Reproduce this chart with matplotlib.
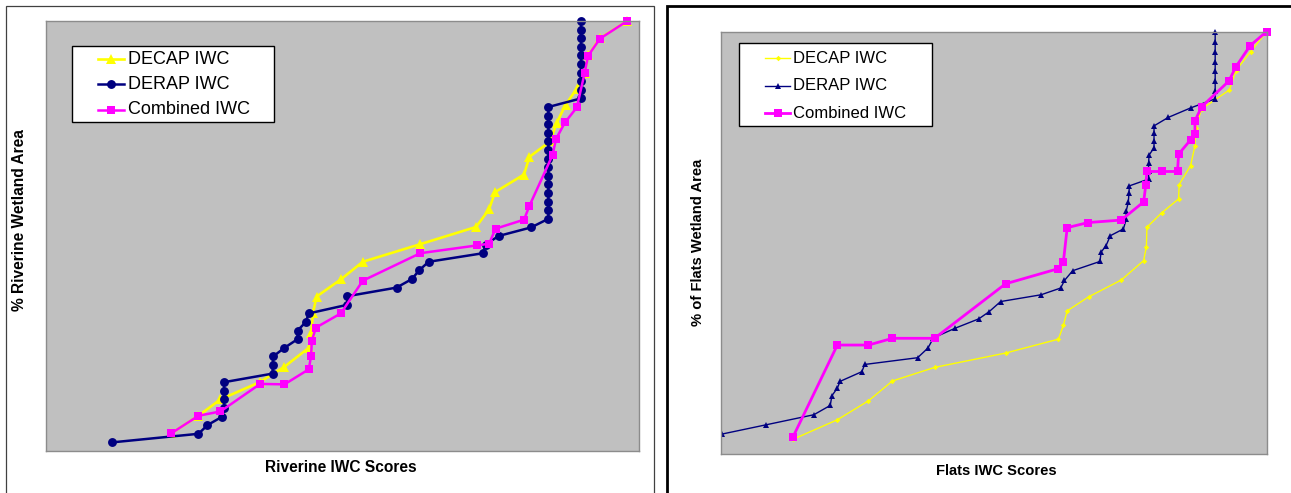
import matplotlib
matplotlib.use("Agg")
import matplotlib.pyplot as plt
from matplotlib.patches import Rectangle
from matplotlib.lines import Line2D
from matplotlib.transforms import Bbox, TransformedBbox

plt.rcParams['font.family'] = ['Liberation Sans', 'DejaVu Sans']

# ---- Riverine data (score, cumulative % of wetland area) ----
riv_decap_x = [21.2, 25.8, 29.5, 36.1, 40.3, 44.4, 44.8, 45.1, 45.7, 49.8, 53.5, 63.2, 72.6,
               74.8, 75.8, 80.7, 81.6, 85.1, 86.2, 87.7, 89.6, 90.9, 91.5, 93.5, 98.1]
riv_decap_y = [4.1, 8.2, 12.0, 16.0, 19.6, 24.0, 27.4, 32.0, 35.9, 39.9, 44.0, 48.1, 52.1,
               56.2, 60.2, 64.3, 68.4, 72.0, 76.3, 80.5, 84.3, 88.0, 92.0, 96.0, 100.0]

riv_derap_x = [11.2, 25.8, 27.3, 29.8, 30.1, 30.1, 30.1, 30.1, 38.3, 38.3,
               38.4, 40.3, 42.5, 42.5, 43.9, 44.4, 50.9, 50.9, 59.2, 61.8,
               63.0, 64.6, 73.8, 74.2, 76.4, 81.9, 84.8, 84.8, 84.8, 84.8,
               84.8, 84.8, 84.8, 84.8, 84.8, 84.8, 84.8, 84.8, 84.8, 84.8,
               90.3, 90.3, 90.3, 90.3, 90.3, 90.3, 90.3, 90.3, 90.3, 90.3]
riv_derap_y = [2, 4, 6, 8, 10, 12, 14, 16, 18, 20,
               22, 24, 26, 28, 30, 32, 34, 36, 38, 40,
               42, 44, 46, 48, 50, 52, 54, 56, 58, 60,
               62, 64, 66, 68, 70, 72, 74, 76, 78, 80,
               82, 84, 86, 88, 90, 92, 94, 96, 98, 100]

riv_comb_x = [21.2, 25.8, 29.5, 36.2, 40.3, 44.4, 44.8, 44.9, 45.6, 49.8, 53.5, 63.2, 72.7,
              74.8, 75.9, 80.7, 81.6, 85.5, 86.1, 87.6, 89.6, 90.9, 91.5, 93.5, 98.1]
riv_comb_y = [4.1, 8.2, 9.2, 15.6, 15.5, 19.0, 22.2, 25.6, 28.7, 32.0, 39.6, 46.0, 47.8,
              48.2, 51.7, 53.8, 57.0, 68.8, 72.6, 76.4, 79.9, 87.8, 91.9, 95.9, 100.0]

# ---- Flats data ----
flat_decap_x = [13.3, 21.4, 27.1, 31.5, 39.2, 52.2, 61.9, 62.8, 63.5, 67.4, 73.4, 77.5, 78.0,
                78.1, 80.8, 83.9, 84.0, 86.1, 86.9, 87.0, 88.1, 93.2, 94.4, 97.1, 100.0]
flat_decap_y = [3.5, 8.1, 12.6, 17.3, 20.5, 23.9, 27.2, 30.5, 33.9, 37.2, 41.2, 45.8, 49.1,
                53.7, 57.1, 60.4, 63.8, 68.3, 73.0, 77.1, 81.7, 86.2, 90.8, 95.3, 100.0]

flat_derap_x = [-0.2, 0.2, 8.3, 17.1, 20.1, 20.4, 21.4, 21.9, 25.9, 26.4,
                36.1, 38.0, 39.0, 43.0, 47.3, 49.2, 51.3, 58.7, 62.3, 63.0,
                64.5, 69.5, 69.7, 70.6, 71.4, 73.8, 74.3, 74.3, 74.7, 74.8,
                74.9, 78.4, 78.4, 78.4, 78.5, 79.4, 79.4, 79.4, 79.4, 82.0,
                86.2, 90.6, 90.6, 90.6, 90.6, 90.6, 90.6, 90.6, 90.6]
flat_derap_y = [1.0, 4.7, 6.9, 9.3, 11.5, 13.8, 15.6, 17.2, 19.5, 21.2,
                22.8, 25.1, 27.5, 29.8, 32.0, 33.7, 36.1, 37.7, 39.3, 41.1,
                43.4, 45.6, 47.8, 49.3, 51.7, 53.3, 55.6, 57.5, 59.7, 61.8,
                63.5, 65.1, 67.0, 68.9, 70.8, 72.5, 74.2, 76.0, 77.7, 79.7,
                82.0, 84.1, 86.0, 88.3, 90.7, 92.9, 95.2, 97.6, 100.0]

flat_comb_x = [13.3, 21.4, 27.1, 31.5, 39.2, 52.2, 61.9, 62.8, 63.5, 67.3, 73.4, 77.5, 77.9,
               78.1, 80.8, 83.7, 83.9, 86.1, 86.9, 86.9, 88.1, 93.1, 94.4, 97.0, 100.0]
flat_comb_y = [4.1, 25.8, 25.8, 27.4, 27.4, 40.3, 43.9, 45.5, 53.6, 54.8, 55.4, 59.7, 63.8,
               66.9, 66.9, 66.9, 71.0, 74.4, 75.7, 78.9, 82.2, 88.3, 91.7, 96.7, 100.0]

labels = ['DECAP IWC', 'DERAP IWC', 'Combined IWC']
YELLOW, NAVY, PINK = '#FFFF00', '#000080', '#FF00FF'
PLOT_BG = '#C0C0C0'

W, H = 1291, 493
fig = plt.figure(figsize=(W / 100, H / 100), dpi=100)


def fx(px):
    return px / W


def fy(py):
    return 1 - py / H


def make_axes(x0, y0, x1, y1):
    ax = fig.add_axes([fx(x0), fy(y1), fx(x1) - fx(x0), fy(y0) - fy(y1)])
    ax.set_facecolor(PLOT_BG)
    ax.set_xlim(0, 100)
    ax.set_ylim(0, 100)
    ax.set_xticks([])
    ax.set_yticks([])
    for s in ax.spines.values():
        s.set_color('#8c8c8c')
        s.set_linewidth(1.0)
    return ax


def series(ax, x, y, **kw):
    line, = ax.plot(x, y, **kw)
    # clip only on the left/bottom so edge markers stay whole
    line.set_clip_box(TransformedBbox(Bbox([[0, 0], [1.06, 1.06]]), ax.transAxes))
    return line


def key(box, rows, hx, tx, size, styles):
    x0, y0, x1, y1 = box
    fig.add_artist(Rectangle((fx(x0), fy(y1)), fx(x1) - fx(x0), fy(y0) - fy(y1),
                             transform=fig.transFigure, facecolor='white',
                             edgecolor='black', linewidth=1.0, zorder=5))
    for ry, lab, st in zip(rows, labels, styles):
        fig.add_artist(Line2D([fx(hx[0]), fx(hx[1])], [fy(ry), fy(ry)],
                              transform=fig.transFigure, zorder=6,
                              color=st['color'], linewidth=st['linewidth']))
        fig.add_artist(Line2D([fx((hx[0] + hx[1]) / 2)], [fy(ry)],
                              transform=fig.transFigure, zorder=7, linestyle='none',
                              color=st['color'], marker=st['marker'],
                              markersize=st['markersize'], markeredgewidth=0))
        fig.text(fx(tx), fy(ry), lab, fontsize=size, va='center', ha='left', zorder=7)


# ---------- Riverine panel ----------
ax1 = make_axes(45.5, 21, 638.5, 451)
riv_styles = [dict(color=YELLOW, marker='^', markersize=7.2, linewidth=1.9),
              dict(color=NAVY, marker='o', markersize=6.4, linewidth=1.8),
              dict(color=PINK, marker='s', markersize=6.2, linewidth=1.8)]
for (x, y), st in zip([(riv_decap_x, riv_decap_y), (riv_derap_x, riv_derap_y),
                       (riv_comb_x, riv_comb_y)], riv_styles):
    series(ax1, x, y, markeredgewidth=0, **st)

ax1.set_xlabel('Riverine IWC Scores', fontsize=11.2, fontweight='bold')
ax1.set_ylabel('% Riverine Wetland Area', fontsize=11.2, fontweight='bold')
ax1.xaxis.set_label_coords(0.498, -0.039)
ax1.yaxis.set_label_coords(-0.0435, 0.537)
ax1.xaxis.label.set_va('center')
ax1.yaxis.label.set_va('center')

key((71.5, 45.7, 274.4, 121.7), [59, 84.4, 109.8], (97.6, 124), 127.5, 13, riv_styles)

# ---------- Flats panel ----------
ax2 = make_axes(720.5, 31.7, 1266.5, 454)
flat_styles = [dict(color=YELLOW, marker='D', markersize=2.8, linewidth=1.0),
               dict(color=NAVY, marker='^', markersize=4.2, linewidth=1.0),
               dict(color=PINK, marker='s', markersize=5.8, linewidth=2.0)]
for (x, y), st in zip([(flat_decap_x, flat_decap_y), (flat_derap_x, flat_derap_y),
                       (flat_comb_x, flat_comb_y)], flat_styles):
    series(ax2, x, y, markeredgewidth=0, **st)

ax2.set_xlabel('Flats IWC Scores', fontsize=10.6, fontweight='bold')
ax2.set_ylabel('% of Flats Wetland Area', fontsize=10.6, fontweight='bold')
ax2.xaxis.set_label_coords(0.5046, -0.040)
ax2.yaxis.set_label_coords(-0.0412, 0.502)
ax2.xaxis.label.set_va('center')
ax2.yaxis.label.set_va('center')

key((738.5, 43.3, 931.6, 126), [58.3, 85.7, 113.3], (765.4, 789.6), 792.8, 12, flat_styles)

# chart frames (run off the bottom / right edge)
fig.add_artist(Rectangle((fx(5.5), fy(520)), fx(654.5) - fx(5.5), fy(5.5) - fy(520),
                         transform=fig.transFigure, fill=False,
                         edgecolor='#404040', linewidth=0.9, zorder=1))
fig.add_artist(Rectangle((fx(667), fy(520)), fx(1320) - fx(667), fy(6) - fy(520),
                         transform=fig.transFigure, fill=False,
                         edgecolor='black', linewidth=2.0, zorder=1))

fig.savefig('out.png', dpi=100)
